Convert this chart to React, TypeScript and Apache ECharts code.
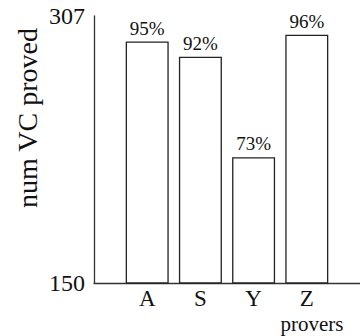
import React, { useEffect, useRef } from "react";
import * as echarts from "echarts";

const categories = ["A", "S", "Y", "Z"];
const provedValues = [292, 283, 224, 296];
const percentLabels = ["95%", "92%", "73%", "96%"];
const yTickValues = [150, 307];
const yAxisTitle = "num VC proved";
const xAxisTitle = "provers";

const FONT = "Liberation Serif";

export default function App() {
  const ref = useRef<HTMLDivElement>(null);
  useEffect(() => {
    if (!ref.current) return;
    const chart = echarts.init(ref.current, null, { renderer: "svg" });
    chart.setOption({
      animation: false,
      backgroundColor: "#ffffff",
      textStyle: { fontFamily: FONT },
      grid: { left: 94, right: 0, top: 16, bottom: 53 },
      xAxis: {
        type: "value",
        min: 0,
        max: categories.length + 1,
        interval: 1,
        splitLine: { show: false },
        axisTick: { show: false },
        axisLine: { show: true, lineStyle: { color: "#333", width: 1.3 } },
        axisLabel: {
          customValues: categories.map((_, i) => i + 1),
          formatter: (v: number) => categories[v - 1] ?? "",
          color: "#111",
          fontFamily: FONT,
          fontSize: 23,
          margin: 4,
        },
      },
      yAxis: {
        type: "value",
        min: yTickValues[0],
        max: yTickValues[yTickValues.length - 1],
        splitLine: { show: false },
        axisTick: { show: false },
        axisLine: { show: true, lineStyle: { color: "#333", width: 1.3 } },
        axisLabel: {
          customValues: yTickValues,
          color: "#111",
          fontFamily: FONT,
          fontSize: 24,
          margin: 9,
        },
      },
      series: [
        {
          type: "bar",
          barWidth: 43,
          data: categories.map((_, i) => [i + 1, provedValues[i]]),
          itemStyle: { color: "#ffffff", borderColor: "#222", borderWidth: 1.3 },
          label: {
            show: true,
            position: "top",
            distance: 4,
            formatter: (p: any) => percentLabels[p.dataIndex],
            color: "#111",
            fontFamily: FONT,
            fontSize: 19,
          },
        },
      ],
      graphic: [
        {
          type: "text",
          x: 27,
          y: 118,
          rotation: Math.PI / 2,
          style: {
            text: yAxisTitle,
            fontFamily: FONT,
            fontSize: 28,
            fill: "#111",
            textAlign: "center",
            textVerticalAlign: "middle",
          },
        },
        {
          type: "text",
          x: 312,
          y: 313,
          style: {
            text: xAxisTitle,
            fontFamily: FONT,
            fontSize: 21,
            fill: "#111",
            textAlign: "center",
            textVerticalAlign: "top",
          },
        },
      ],
    });
    return () => chart.dispose();
  }, []);
  return (
    <div
      ref={ref}
      style={{ position: "fixed", left: 0, top: 0, width: 360, height: 336 }}
    />
  );
}
